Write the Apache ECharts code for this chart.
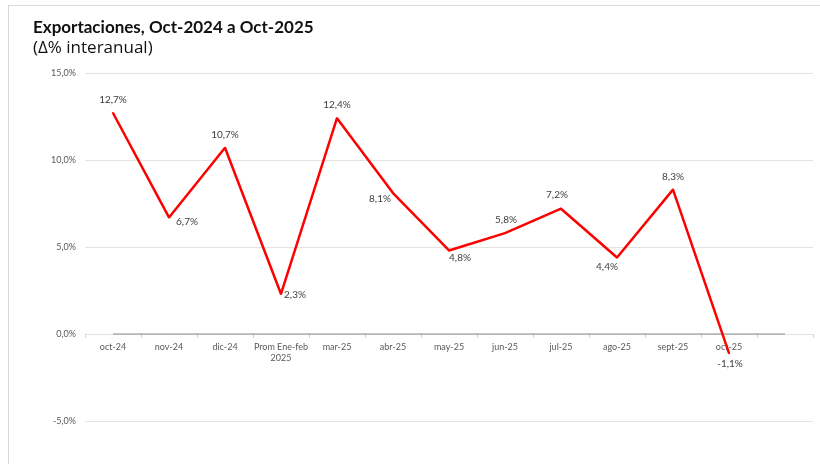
<!DOCTYPE html>
<html>
<head>
<meta charset="utf-8">
<script src="https://cdn.jsdelivr.net/npm/echarts@6/dist/echarts.min.js"></script>
<style>
html,body{margin:0;padding:0;background:#fff;}
#c{width:820px;height:464px;}
</style>
</head>
<body>
<div id="c"></div>
<script>
const categories = ['oct-24','nov-24','dic-24','Prom Ene-feb\n2025','mar-25','abr-25','may-25','jun-25','jul-25','ago-25','sept-25','oct-25',''];
const exportValues = [12.7, 6.7, 10.7, 2.3, 12.4, 8.1, 4.8, 5.8, 7.2, 4.4, 8.3, -1.1];
const baseline = [0,0,0,0,0,0,0,0,0,0,0,0,0];
const yTicks = {min: -5, max: 15, interval: 5};
const labelOffsets = [[0,-13],[18,4],[0,-13],[14,1],[0,-13],[-13,6],[11,7],[1,-13],[-4,-14],[-10,9],[0,-13],[1,11]];

const fmt = v => v.toFixed(1).replace('.', ',') + '%';
const font = 'Lato, "Open Sans", sans-serif';

const chart = echarts.init(document.getElementById('c'), null, {renderer: 'canvas'});
chart.setOption({
  animation: false,
  backgroundColor: '#fff',
  textStyle: {fontFamily: font},
  title: {
    text: 'Exportaciones, Oct-2024 a Oct-2025',
    subtext: '(Δ% interanual)',
    left: 28, top: 14, itemGap: 4,
    textStyle: {fontFamily: font, fontSize: 17, fontWeight: 'bold', color: '#111'},
    subtextStyle: {fontFamily: '"Open Sans", sans-serif', fontSize: 17, color: '#111'}
  },
  graphic: [
    {type: 'line', shape: {x1: 8, y1: 5.5, x2: 820, y2: 5.5}, style: {stroke: '#d9d9d9', lineWidth: 1}, silent: true},
    {type: 'line', shape: {x1: 8.5, y1: 5, x2: 8.5, y2: 464}, style: {stroke: '#d9d9d9', lineWidth: 1}, silent: true}
  ],
  grid: {left: 85, right: 7, top: 73, bottom: 43, containLabel: false},
  xAxis: {
    type: 'category',
    data: categories,
    boundaryGap: true,
    position: 'bottom',
    offset: -87,
    axisLine: {show: false},
    axisTick: {show: true, length: 4, inside: false, lineStyle: {color: '#d0d0d0'}},
    axisLabel: {fontFamily: font, fontSize: 9, color: '#595959', margin: 8, interval: 0, lineHeight: 11}
  },
  yAxis: {
    type: 'value',
    min: yTicks.min, max: yTicks.max, interval: yTicks.interval,
    axisLine: {show: false},
    axisTick: {show: false},
    axisLabel: {fontFamily: font, fontSize: 9, color: '#595959', margin: 9, formatter: v => v.toFixed(1).replace('.', ',') + '%'},
    splitLine: {lineStyle: {color: '#e3e3e3', width: 1}}
  },
  series: [
    {
      type: 'line',
      data: baseline,
      symbol: 'none',
      silent: true,
      lineStyle: {color: '#8c8c8c', width: 1.2},
      z: 1
    },
    {
      type: 'line',
      data: exportValues.map((v, i) => ({
        value: v,
        label: {offset: labelOffsets[i]}
      })),
      symbol: 'circle',
      symbolSize: 2,
      showSymbol: true,
      itemStyle: {color: '#ff0000'},
      lineStyle: {color: '#ff0000', width: 2.5},
      label: {
        show: true,
        position: 'inside',
        align: 'center',
        verticalAlign: 'middle',
        fontFamily: font,
        fontSize: 10,
        color: '#404040',
        formatter: p => fmt(p.value)
      },
      z: 3
    }
  ]
});
</script>
</body>
</html>
